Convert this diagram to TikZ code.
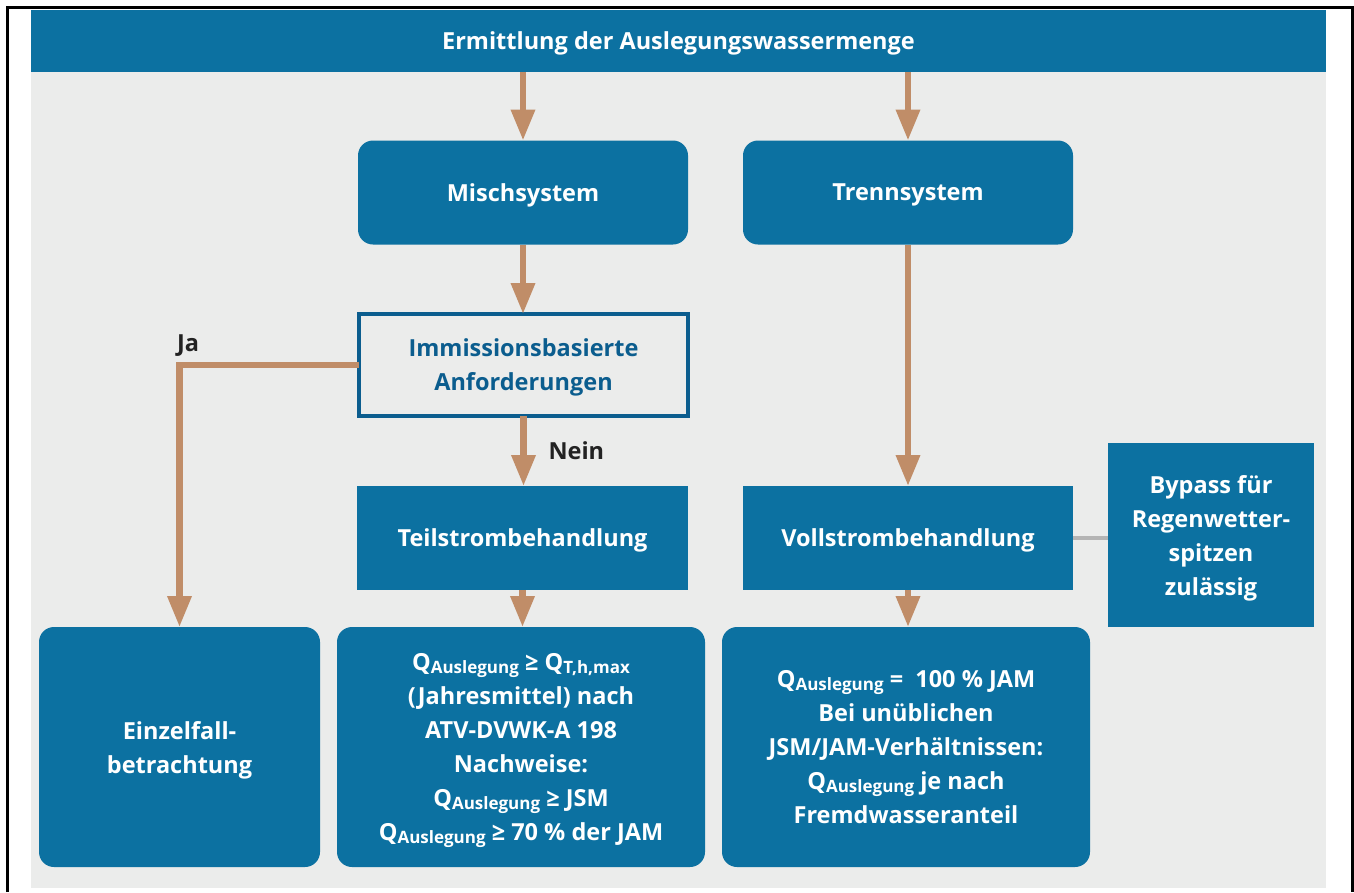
\documentclass[tikz,border=0pt]{standalone}
\usepackage{fontspec}
\setmainfont{Open Sans}
\usetikzlibrary{arrows.meta}
\definecolor{boxblue}{HTML}{0C71A1}
\definecolor{panelgrey}{HTML}{EBECEB}
\definecolor{flowtan}{HTML}{C08D68}
\definecolor{darkblue}{HTML}{0B5D8E}
\definecolor{linkgrey}{HTML}{B4B4B4}
\definecolor{labelink}{HTML}{222222}

% subscript for Q_{...}
\newcommand\qsub[1]{\raisebox{-0.2ex}{\fontsize{17}{17}\selectfont #1}}

\begin{document}
\begin{tikzpicture}[x=1pt,y=-1pt,
  every node/.style={font=\fontsize{23.5}{34}\selectfont\bfseries, align=center,
    inner sep=0pt, outer sep=0pt, text depth=0pt},
  solidbox/.style={fill=boxblue, text=white},
  roundbox/.style={solidbox, rounded corners=15pt},
  outlinebox/.style={draw=darkblue, line width=4.5pt, fill=panelgrey, text=darkblue},
  flow/.style={draw=flowtan, line width=6.5pt, -{Triangle[width=23pt,length=31pt]}},
  flowlabel/.style={text=labelink},
  sidelink/.style={draw=linkgrey, line width=4pt}]

\useasboundingbox (0,0) rectangle (1354,892);

% frame and background panel
\draw[line width=3pt] (7,892) -- (7,7) -- (1352,7) -- (1352,892);
\fill[panelgrey] (31,10) rectangle (1326,888);

% header
\node[solidbox, minimum width=1295pt, minimum height=62pt] (title) at (678.5,41)
  {Ermittlung der Auslegungswassermenge};

% second row
\node[roundbox, minimum width=330pt, minimum height=104pt] (misch) at (523,192.5) {Mischsystem};
\node[roundbox, minimum width=330pt, minimum height=104pt] (trenn) at (908,192.5) {Trennsystem};

% decision
\node[outlinebox, minimum width=329pt, minimum height=102pt] (immis) at (523.5,365)
  {Immissionsbasierte\\Anforderungen};

% treatment row
\node[solidbox, minimum width=331pt, minimum height=104pt] (teil) at (522.5,538) {Teilstrombehandlung};
\node[solidbox, minimum width=330pt, minimum height=104pt] (voll) at (908,538) {Vollstrombehandlung};
\node[solidbox, minimum width=206pt, minimum height=184pt] (bypass) at (1211,535)
  {Bypass für\\Regenwetter-\\spitzen\\zulässig};

% results
\node[roundbox, minimum width=281pt, minimum height=240pt] (einzel) at (179.5,747)
  {Einzelfall-\\betrachtung};
\node[roundbox, minimum width=368pt, minimum height=240pt] (teilres) at (521,747)
  {Q\qsub{Auslegung} ≥ Q\qsub{T,h,max}\\
   (Jahresmittel) nach\\
   ATV-DVWK-A 198\\
   Nachweise:\\
   Q\qsub{Auslegung} ≥ JSM\\
   Q\qsub{Auslegung} ≥ 70 \% der JAM};
\node[roundbox, minimum width=368pt, minimum height=240pt] (vollres) at (906,747)
  {Q\qsub{Auslegung} =\ \ 100 \% JAM\\
   Bei unüblichen\\
   JSM/JAM-Verhältnissen:\\
   Q\qsub{Auslegung} je nach\\
   Fremdwasseranteil};

% connectors
\draw[flow] (misch.north |- title.south) -- (misch.north);
\draw[flow] (trenn.north |- title.south) -- (trenn.north);
\draw[flow] (misch.south) -- (immis.north -| misch.south);
\draw[flow] (immis.south) -- (teil.north -| immis.south)
  node[flowlabel, pos=0.5, right=25pt] {Nein};
\draw[flow] (immis.west) -| (einzel.north);
\node[flowlabel] (ja) at (188,343) {Ja};
\draw[flow] (trenn.south) -- (voll.north);
\draw[flow] (teil.south) -- (teilres.north -| teil.south);
\draw[flow] (voll.south) -- (vollres.north -| voll.south);
\draw[sidelink] (voll.east) -- (voll.east -| bypass.west);

\end{tikzpicture}
\end{document}
